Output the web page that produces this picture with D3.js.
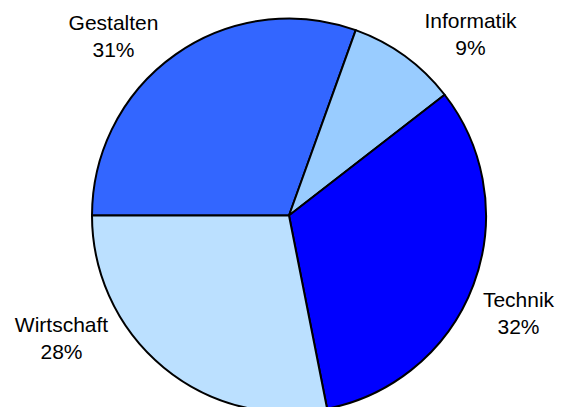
<!DOCTYPE html>
<html>
<head>
<meta charset="utf-8">
<script src="https://cdn.jsdelivr.net/npm/d3@7/dist/d3.min.js"></script>
<style>
  html, body { margin: 0; padding: 0; background: #fff; }
  svg { display: block; }
  text { font-family: "Liberation Sans", Arial, sans-serif; font-size: 21px; fill: #000; }
</style>
</head>
<body>
<svg id="chart" width="565" height="407"></svg>
<script>
const categories = ["Gestalten", "Informatik", "Technik", "Wirtschaft"];
const values = [30.5, 9.0, 32.4, 28.1];
const percentLabels = ["31%", "9%", "32%", "28%"];
const colors = ["#3366FF", "#99CCFF", "#0000FF", "#BBE0FF"];
// label block centres (text layout only)
const labelLayout = [
  { x: 113.5, y: 29.5 },
  { x: 470.5, y: 27.5 },
  { x: 518.5, y: 306.5 },
  { x: 61.5, y: 331.5 }
];

const W = 565, H = 407;
const cx = 289, cy = 215.5, R = 197;
const svg = d3.select("#chart");
const g = svg.append("g").attr("transform", `translate(${cx},${cy})`);

const data = categories.map((c, i) => ({ name: c, value: values[i], pct: percentLabels[i], color: colors[i] }));

const pie = d3.pie().value(d => d.value).sort(null)
  .startAngle(-Math.PI / 2).endAngle(3 * Math.PI / 2);
const arc = d3.arc().innerRadius(0).outerRadius(R);

g.selectAll("path").data(pie(data)).join("path")
  .attr("d", arc)
  .attr("fill", d => d.data.color)
  .attr("stroke", "#000")
  .attr("stroke-width", 2)
  .attr("stroke-linejoin", "round");

const lbl = svg.append("g");
data.forEach((d, i) => {
  const t = lbl.append("text").attr("text-anchor", "middle")
    .attr("x", labelLayout[i].x).attr("y", labelLayout[i].y);
  t.append("tspan").attr("x", labelLayout[i].x).text(d.name);
  t.append("tspan").attr("x", labelLayout[i].x).attr("dy", 27.5).text(d.pct);
});
</script>
</body>
</html>
